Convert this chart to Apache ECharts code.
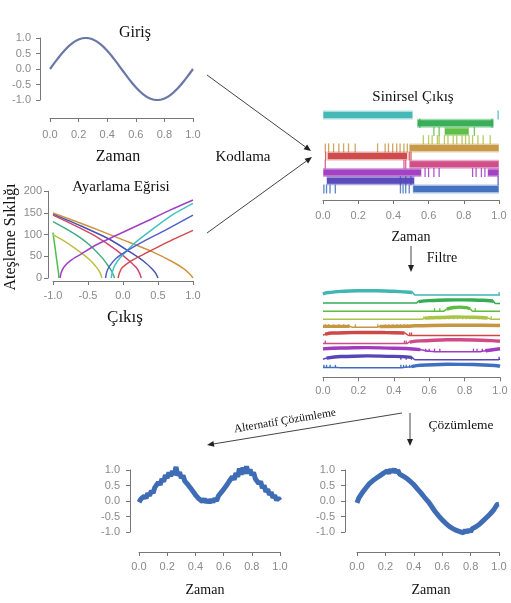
<!DOCTYPE html>
<html><head><meta charset="utf-8">
<script src="https://cdn.jsdelivr.net/npm/echarts@6/dist/echarts.min.js"></script>
<style>html,body{margin:0;padding:0;background:#fff}#c{width:511px;height:603px}</style>
</head><body><div id="c"></div><script>
// ---------------- DATA ----------------
const inputSignal = [0, 0.31, 0.59, 0.81, 0.95, 1.0, 0.95, 0.81, 0.59, 0.31, 0, -0.31, -0.59, -0.81, -0.95, -1.0, -0.95, -0.81, -0.59, -0.31, 0];

const tuneGreen   = [[-1,105],[-0.99,92],[-0.97,70],[-0.95,45],[-0.93,22],[-0.92,10],[-0.915,0]];
const tuneOlive   = [[-1,100],[-0.85,86],[-0.7,70],[-0.55,52],[-0.45,38],[-0.38,25],[-0.33,13],[-0.3,0]];
const tuneTeal    = [[-1,130],[-0.8,112],[-0.6,92],[-0.45,72],[-0.3,47],[-0.22,30],[-0.16,15],[-0.12,0]];
const tuneRedDown = [[-1,145],[-0.7,122],[-0.4,97],[-0.1,65],[0.1,38],[0.2,22],[0.24,10],[0.26,0]];
const tuneNavy    = [[-1,148],[-0.6,120],[-0.2,90],[0.1,60],[0.3,38],[0.42,20],[0.47,10],[0.5,0]];
const tuneOrange  = [[-1,150],[-0.5,120],[0,88],[0.4,62],[0.7,38],[0.88,20],[0.96,8],[1,0]];
const tunePurple  = [[-0.9,0],[-0.88,14],[-0.84,26],[-0.75,40],[-0.6,55],[-0.4,75],[-0.1,98],[0.3,128],[0.65,155],[1,180]];
const tuneCyan    = [[-0.17,0],[-0.15,15],[-0.12,28],[-0.05,45],[0.05,62],[0.2,85],[0.4,110],[0.7,145],[1,172]];
const tuneBlue    = [[-0.25,0],[-0.23,15],[-0.19,28],[-0.1,45],[0.05,62],[0.3,85],[0.6,110],[1,145]];
const tuneRedUp   = [[-0.07,0],[-0.05,12],[-0.01,24],[0.1,38],[0.3,55],[0.6,80],[1,110]];

const rowColors = ['#3fb6b4','#34ad55','#5cbd42','#a9c447','#c59742','#cf4747','#d04a86','#a03cc0','#5646b8','#3f6fbf'];
const rasterDense = [
  [[0.0,0.51]],
  [[0.535,0.97]],
  [[0.69,0.83]],
  [],
  [[0.49,1.0]],
  [[0.025,0.48]],
  [[0.49,1.0]],
  [[0.0,0.56],[0.935,1.0]],
  [[0.02,0.52]],
  [[0.51,1.0]]
];
const rasterSpikes = [
  [0.995],
  [0.55,0.96],
  [0.63,0.66,0.86],
  [0.57,0.6,0.62,0.65,0.66,0.69,0.71,0.74,0.76,0.79,0.81,0.83,0.85,0.88,0.91,0.95],
  [0.013,0.032,0.06,0.09,0.117,0.145,0.183,0.31,0.353,0.372,0.396,0.419,0.438,0.46,0.479],
  [0.015,0.49,0.5],
  [0.013,0.46,0.47],
  [0.58,0.6,0.63,0.66,0.85,0.87,0.9,0.92],
  [0.44,0.47,0.5,0.995],
  [0.005,0.02,0.04,0.07,0.44,0.455,0.47,0.49]
];

const filterTraces = [
  [[0,0.12],[0.03,0.3],[0.1,0.45],[0.2,0.53],[0.3,0.53],[0.4,0.46],[0.47,0.36],[0.505,0.3],[0.52,0],[1,0]],
  [[0,0],[0.525,0],[0.54,0.18],[0.6,0.3],[0.7,0.38],[0.8,0.4],[0.9,0.34],[0.96,0.25],[0.975,-0.05],[1,-0.05]],
  [[0,0],[0.68,0],[0.7,0.25],[0.74,0.45],[0.77,0.5],[0.81,0.44],[0.83,0.28],[0.845,0],[1,0]],
  [[0,0],[0.56,0],[0.575,0.14],[0.65,0.22],[0.75,0.28],[0.85,0.25],[0.93,0.16],[0.95,0],[1,0]],
  [[0,0.12],[0.15,0.12],[0.17,0],[0.3,0],[0.32,0.1],[0.48,0.14],[0.52,0.2],[0.7,0.26],[0.9,0.26],[1,0.24]],
  [[0,0],[0.015,0.15],[0.05,0.3],[0.2,0.38],[0.35,0.37],[0.46,0.3],[0.485,0],[1,0]],
  [[0,0],[0.47,0],[0.49,0.18],[0.55,0.33],[0.7,0.48],[0.85,0.45],[0.95,0.36],[1,0.28]],
  [[0,0.35],[0.1,0.45],[0.25,0.5],[0.4,0.43],[0.55,0.25],[0.6,0.05],[0.64,0],[0.88,0],[0.92,0.12],[1,0.36]],
  [[0,0.05],[0.02,0.2],[0.1,0.4],[0.25,0.48],[0.4,0.42],[0.5,0.3],[0.52,0],[0.99,0],[1,0.1]],
  [[0,0.06],[0.08,0.06],[0.1,0],[0.43,0],[0.5,0.15],[0.55,0.33],[0.7,0.45],[0.85,0.42],[0.97,0.3],[1,0.2]]
];

const decodeAlt = [-0.04,0.06,0.02,0.16,0.09,0.25,0.17,0.33,0.26,0.44,0.39,0.6,0.52,0.71,0.63,0.83,0.74,0.92,0.8,0.97,0.84,1.1,0.82,0.93,0.74,0.82,0.64,0.7,0.51,0.57,0.36,0.41,0.2,0.25,0.07,0.13,-0.02,0.07,-0.05,0.04,-0.06,0.05,-0.04,0.08,0.0,0.16,0.1,0.3,0.24,0.45,0.4,0.62,0.56,0.78,0.69,0.9,0.78,1.05,0.85,1.08,0.88,1.12,0.89,1.02,0.83,0.92,0.72,0.78,0.56,0.63,0.42,0.5,0.3,0.38,0.2,0.28,0.11,0.18,0.03,0.1,0.02];
const decodeMain = [-0.06,0.09,0.1,0.27,0.26,0.42,0.4,0.56,0.53,0.66,0.61,0.74,0.69,0.82,0.77,0.9,0.86,0.97,0.9,1.02,0.93,1.03,0.92,0.99,0.87,0.93,0.8,0.86,0.73,0.77,0.63,0.67,0.53,0.55,0.39,0.41,0.26,0.27,0.12,0.14,-0.01,-0.01,-0.17,-0.18,-0.34,-0.33,-0.48,-0.47,-0.61,-0.59,-0.72,-0.69,-0.82,-0.78,-0.89,-0.84,-0.95,-0.89,-0.99,-0.93,-1.03,-0.94,-1.02,-0.92,-0.99,-0.89,-0.94,-0.83,-0.88,-0.75,-0.78,-0.64,-0.66,-0.53,-0.55,-0.42,-0.44,-0.29,-0.29,-0.11,-0.1];

// ---------------- BUILD ----------------
const AX = '#777', LB = '#8a8a8a', SANS = 'Liberation Sans', SERIF = 'Liberation Serif';
function xAx(gi, min, max, interval, offset, margin){
  return {gridIndex: gi, type:'value', min, max, interval, offset,
    axisLine:{show:true, onZero:false, lineStyle:{color:AX,width:1}},
    axisTick:{show:true, length:4, lineStyle:{color:AX}},
    axisLabel:{color:LB, fontSize:11, fontFamily:SANS, margin, showMinLabel:true, showMaxLabel:true,
      formatter: v => v.toFixed(1)},
    splitLine:{show:false}};
}
function yAx(gi, min, max, interval, offset, margin, fmt){
  return {gridIndex: gi, type:'value', min, max, interval, offset,
    axisLine:{show:true, onZero:false, lineStyle:{color:AX,width:1}},
    axisTick:{show:true, length:4, lineStyle:{color:AX}},
    axisLabel:{color:LB, fontSize:11, fontFamily:SANS, margin, showMinLabel:true, showMaxLabel:true, formatter: fmt},
    splitLine:{show:false}};
}
const f1 = v => v.toFixed(1);

const grids = [
  {left:50, top:38, width:143, height:62},
  {left:53, top:191.3, width:140, height:86.7},
  {left:323, top:110.9, width:176, height:82.2},
  {left:323, top:289.3, width:177, height:81},
  {left:139, top:470, width:141, height:62},
  {left:357, top:470, width:142, height:62}
];
const xAxes = [
  xAx(0,0,1,0.2,18,11),
  xAx(1,-1,1,0.5,3,9),
  xAx(2,0,1,0.2,7,10),
  xAx(3,0,1,0.2,7,8),
  xAx(4,0,1,0.2,20,9),
  xAx(5,0,1,0.2,20,9)
];
const yAxes = [
  yAx(0,-1,1,0.5,10,9,f1),
  yAx(1,0,200,50,5,6,v=>String(v)),
  {gridIndex:2, type:'value', min:0.5, max:10.5, inverse:true, show:false},
  {gridIndex:3, type:'value', min:0, max:10, show:false},
  yAx(4,-1,1,0.5,9,10,f1),
  yAx(5,-1,1,0.5,12,10,f1)
];

const series = [];
// input
series.push({type:'line', xAxisIndex:0, yAxisIndex:0, showSymbol:false, smooth:true,
  data: inputSignal.map((v,i)=>[i/(inputSignal.length-1), v]), lineStyle:{color:'#6a78a8', width:2.2}});
// tuning curves
const tuning = [
  [tuneGreen,'#4cbf4c'],[tuneOlive,'#bfbf45'],[tuneTeal,'#3fae82'],[tuneRedDown,'#d2466a'],
  [tuneNavy,'#4452b2'],[tuneOrange,'#cf9442'],[tunePurple,'#a040c2'],[tuneCyan,'#44c2c2'],
  [tuneBlue,'#5060c8'],[tuneRedUp,'#d24a4a']
];
tuning.forEach(([d,c])=>series.push({type:'line', xAxisIndex:1, yAxisIndex:1, showSymbol:false,
  smooth:0.25, data:d, lineStyle:{color:c, width:1.5}}));
// raster
rowColors.forEach((c, r)=>{
  const items = [];
  rasterDense[r].forEach(iv=>items.push([iv[0], iv[1], r+1, 0]));
  rasterSpikes[r].forEach(t=>items.push([t, t, r+1, 1]));
  series.push({type:'custom', xAxisIndex:2, yAxisIndex:2, data:items, encode:{x:[0,1], y:2},
    renderItem:(params, api)=>{
      const s=api.value(0), e=api.value(1), row=api.value(2), k=api.value(3);
      const p1=api.coord([s,row]), p2=api.coord([e,row]);
      if(k===0){
        return {type:'group', children:[
          {type:'rect', shape:{x:p1[0], y:p1[1]-4.5, width:Math.max(1,p2[0]-p1[0]), height:9}, style:{fill:c, opacity:0.45}},
          {type:'rect', shape:{x:p1[0]+0.5, y:p1[1]-3, width:Math.max(1,p2[0]-p1[0]-1), height:6}, style:{fill:c, opacity:0.95}}
        ]};
      }
      return {type:'line', shape:{x1:p1[0], y1:p1[1]-4.5, x2:p1[0], y2:p1[1]+4.5}, style:{stroke:c, lineWidth:1.3, opacity:0.85}};
    }});
});
// filtered traces
filterTraces.forEach((tr, i)=>{
  const base = 9.3 - i;
  const c = rowColors[i];
  series.push({type:'line', xAxisIndex:3, yAxisIndex:3, showSymbol:false, smooth:0.4, smoothMonotone:'x',
    data: tr.map(p=>[p[0], p[1]+base]), lineStyle:{color:c, width:1.5}});
  series.push({type:'line', xAxisIndex:3, yAxisIndex:3, showSymbol:false, smooth:0.4, smoothMonotone:'x',
    connectNulls:false,
    data: tr.map(p=>[p[0], p[1] >= 0.1 ? p[1]+base : null]), lineStyle:{color:c, width:3.4}});
  series.push({type:'custom', xAxisIndex:3, yAxisIndex:3, data: rasterSpikes[i].map(t=>[t, base]),
    encode:{x:0, y:1},
    renderItem:(params, api)=>{
      const p=api.coord([api.value(0), api.value(1)]);
      return {type:'line', shape:{x1:p[0], y1:p[1], x2:p[0], y2:p[1]-3}, style:{stroke:c, lineWidth:1.3}};
    }});
});
// decoded
series.push({type:'line', xAxisIndex:4, yAxisIndex:4, showSymbol:false, clip:false,
  data: decodeAlt.map((v,i)=>[i/(decodeAlt.length-1), v]), lineStyle:{color:'#3f6db5', width:5}});
series.push({type:'line', xAxisIndex:5, yAxisIndex:5, showSymbol:false, clip:false,
  data: decodeMain.map((v,i)=>[i/(decodeMain.length-1), v]), lineStyle:{color:'#3f6db5', width:5}});

// ---------------- DECORATION ----------------
function txt(x, y, text, size, rot){
  return {type:'text', x, y, rotation: rot||0, z:100,
    style:{text, font: size+'px "'+SERIF+'"', fill:'#111', align:'center', verticalAlign:'middle'}};
}
function arrow(x1,y1,x2,y2){
  const a=Math.atan2(y2-y1,x2-x1), L=7, W=3;
  const bx=x2-L*Math.cos(a), by=y2-L*Math.sin(a);
  return [
    {type:'line', shape:{x1,y1,x2:bx,y2:by}, style:{stroke:'#444', lineWidth:1}},
    {type:'polygon', shape:{points:[[x2,y2],[bx+W*Math.sin(a), by-W*Math.cos(a)],[bx-W*Math.sin(a), by+W*Math.cos(a)]]}, style:{fill:'#222'}}
  ];
}
const graphics = [
  txt(135,33,'Giriş',16), txt(118,157,'Zaman',16), txt(243,157,'Kodlama',15),
  txt(121,187,'Ayarlama Eğrisi',15), txt(11,237,'Ateşleme Sıklığı',16,Math.PI/2), txt(125,318,'Çıkış',17),
  txt(413,97,'Sinirsel Çıkış',15), txt(411,237,'Zaman',14), txt(442,258,'Filtre',14),
  txt(285,421,'Alternatif Çözümleme',11.5,0.165), txt(461,425,'Çözümleme',13.5),
  txt(205,590,'Zaman',14), txt(431,590,'Zaman',14),
  ...arrow(207,75,311,151), ...arrow(207,233,312,157), ...arrow(411,246,411,272),
  ...arrow(410,413,410,446), ...arrow(402,413,207,445)
];

const chart = echarts.init(document.getElementById('c'), null, {renderer:'canvas'});
chart.setOption({backgroundColor:'#fff', animation:false, grid:grids, xAxis:xAxes, yAxis:yAxes, series, graphic:graphics});
</script></body></html>
